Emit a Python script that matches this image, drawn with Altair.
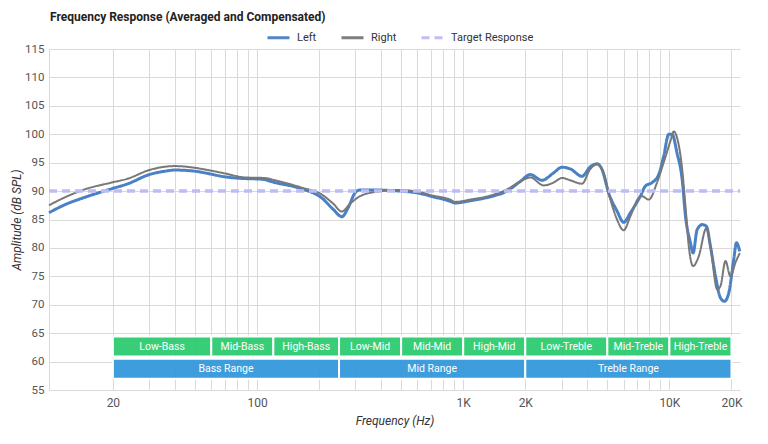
import altair as alt
import pandas as pd

# Left channel response (Hz, dB SPL)
left_freq = [9.8, 11.7, 14.6, 19.7, 23.7, 30, 35.8, 40, 50, 55.9, 70, 87.5, 105, 122,
             165, 206, 234, 258, 277, 299, 316, 354, 494, 596, 715, 865, 914, 1081,
             1352, 1630, 1892, 2115, 2410, 2744, 3014, 3306, 3768, 4136, 4458, 4712,
             5072, 5572, 6000, 6472, 7228, 7656, 8243, 8872, 9376, 9930, 10304, 10890,
             11536, 11968, 12648, 13032, 13626, 14416, 15126, 15814, 16732, 17692,
             18506, 19410, 20520, 21140, 21940]
left_db = [86.2, 87.6, 88.9, 90.4, 91.3, 92.9, 93.5, 93.7, 93.5, 93.2, 92.5, 92.2, 92.1, 91.5,
           90.4, 88.8, 86.8, 85.5, 87.1, 89.7, 90.2, 90.2, 90.0, 89.7, 89.0, 88.2, 87.9, 88.3,
           89.0, 90.0, 91.7, 92.9, 91.9, 93.2, 94.2, 93.9, 92.6, 94.3, 94.8, 93.8,
           89.7, 86.5, 84.5, 86.2, 89.1, 90.9, 91.5, 92.9, 96.1, 100.0, 100.0, 96.7,
           92.0, 85.6, 80.9, 79.1, 83.2, 84.1, 83.8, 80.3, 75.0, 71.2,
           70.6, 72.1, 78.0, 80.9, 79.4]

# Right channel response (Hz, dB SPL)
right_freq = [9.8, 11.7, 14.6, 19.7, 23.7, 30, 40, 50, 55.9, 70, 87.5, 109, 122, 165,
              206, 234, 258, 283, 316, 354, 494, 596, 715, 865, 914, 1081, 1352, 1630,
              1892, 2115, 2454, 2744, 3014, 3306, 3768, 4136, 4458, 4798, 5176, 5572,
              6000, 6472, 7096, 7366, 7944, 8710, 9376, 10116, 10496, 10890, 11536,
              11968, 12416, 13032, 13868, 15126, 15814, 17060, 17692, 18708, 19770,
              20900, 21950]
right_db = [87.5, 88.9, 90.3, 91.5, 92.2, 93.7, 94.4, 94.1, 93.8, 93.1, 92.4, 92.3, 91.9, 90.6,
            89.4, 87.8, 86.4, 87.8, 89.1, 89.7, 90.2, 89.9, 89.2, 88.5, 88.1, 88.5, 89.2, 90.3,
            91.7, 92.4, 91.0, 91.5, 92.3, 91.9, 91.3, 93.9, 94.7, 93.2, 88.5, 85.0,
            83.1, 85.6, 88.8, 89.1, 88.5, 91.5, 95.0, 98.8, 100.5, 99.4, 93.8,
            87.3, 80.3, 76.8, 78.5, 83.5, 80.3, 72.7, 73.3, 77.7, 75.0,
            77.4, 79.1]

# Flat target response
target_freq = [9.8, 22000]
target_db = [90, 90]

# Frequency bands (upper row) and ranges (lower row)
band_names = ["Low-Bass", "Mid-Bass", "High-Bass", "Low-Mid", "Mid-Mid", "High-Mid",
              "Low-Treble", "Mid-Treble", "High-Treble"]
band_lo = [20, 60, 120, 250, 500, 1000, 2000, 5000, 10000]
band_hi = [60, 120, 250, 500, 1000, 2000, 5000, 10000, 20000]
range_names = ["Bass Range", "Mid Range", "Treble Range"]
range_lo = [20, 250, 2000]
range_hi = [250, 2000, 20000]
band_row = [60.9, 64.4]
range_row = [57.0, 60.5]

grid_values = ([v for v in range(20, 100, 10)] + [v for v in range(100, 1000, 100)]
               + [v for v in range(1000, 10000, 1000)] + [10000, 20000])
x_labels = {20: "20", 100: "100", 1000: "1K", 2000: "2K", 10000: "10K", 20000: "20K"}
y_values = list(range(55, 120, 5))

FONT = "Roboto"
series_domain = ["Left", "Right", "Target Response"]
series_width = {"Left": 3, "Right": 2, "Target Response": 3.5}

curves = pd.concat([
    pd.DataFrame({"freq": left_freq, "db": left_db, "series": "Left"}),
    pd.DataFrame({"freq": right_freq, "db": right_db, "series": "Right"}),
    pd.DataFrame({"freq": target_freq, "db": target_db, "series": "Target Response"}),
], ignore_index=True)
curves["width"] = curves["series"].map(series_width)

bands = pd.DataFrame({
    "name": band_names + range_names,
    "lo": band_lo + range_lo,
    "hi": band_hi + range_hi,
    "bottom": [band_row[0]] * len(band_names) + [range_row[0]] * len(range_names),
    "top": [band_row[1]] * len(band_names) + [range_row[1]] * len(range_names),
    "fill": ["#2ecc71"] * len(band_names) + ["#3498db"] * len(range_names),
})
bands["mid"] = (bands["lo"] * bands["hi"]) ** 0.5
bands["center"] = (bands["bottom"] + bands["top"]) / 2

label_expr = " : ".join(
    f"datum.value == {k} ? '{v}'" for k, v in x_labels.items()
) + " : ''"

x_scale = alt.Scale(type="log", domain=[9.8, 22000], nice=False)
y_scale = alt.Scale(domain=[55, 115], nice=False, zero=False)

x_axis = alt.Axis(values=grid_values, labelExpr=label_expr, labelOverlap=False,
                  labelFlush=False, ticks=False, domain=False, grid=True,
                  title="Frequency (Hz)", titleFontStyle="italic",
                  titleFontWeight="normal", titleFontSize=12, titlePadding=7,
                  labelPadding=7, labelFontSize=12)
y_axis = alt.Axis(values=y_values, ticks=False, domain=True, grid=True,
                  labelOverlap=False, title="Amplitude (dB SPL)",
                  titleFontStyle="italic", titleFontWeight="normal", titleFontSize=12,
                  titlePadding=1, labelPadding=5, labelFontSize=11.5)

rects = alt.Chart(bands).mark_rect(stroke="white", strokeWidth=2, opacity=0.95).encode(
    x=alt.X("lo:Q", scale=x_scale, axis=x_axis),
    x2="hi:Q",
    y=alt.Y("bottom:Q", scale=y_scale, axis=y_axis),
    y2="top:Q",
    color=alt.Color("fill:N", scale=None),
)

texts = alt.Chart(bands).mark_text(color="white", fontSize=10.5, font=FONT).encode(
    x=alt.X("mid:Q", scale=x_scale, axis=x_axis),
    y=alt.Y("center:Q", scale=y_scale, axis=y_axis),
    text="name:N",
)

legend = alt.Legend(
    title=None, orient="none", legendX=217, legendY=-24, direction="horizontal",
    symbolType="stroke", symbolSize=484, symbolStrokeWidth=3, labelFontSize=11,
    labelFont=FONT, labelColor="#333", columnPadding=18, labelOffset=6,
)

lines = alt.Chart(curves).mark_line(interpolate="monotone").encode(
    x=alt.X("freq:Q", scale=x_scale, axis=x_axis),
    y=alt.Y("db:Q", scale=y_scale, axis=y_axis),
    color=alt.Color("series:N", legend=legend,
                    scale=alt.Scale(domain=series_domain,
                                    range=["#4a80c4", "#787878", "#bdbdf6"])),
    strokeDash=alt.StrokeDash("series:N", legend=legend,
                              scale=alt.Scale(domain=series_domain,
                                              range=[[1, 0], [1, 0], [8, 5]])),
    strokeWidth=alt.StrokeWidth("width:Q", scale=None),
    detail="series:N",
)

chart = alt.layer(rects, texts, lines).properties(
    width=691,
    height=341,
    autosize=alt.AutoSizeParams(type="none"),
    padding={"left": 49, "top": 49, "right": 28, "bottom": 54},
    title=alt.TitleParams("Frequency Response (Averaged and Compensated)",
                          anchor="start", frame="group", fontSize=12,
                          fontWeight="bold", font=FONT, color="#222",
                          offset=1, dx=1),
).configure_view(stroke=None).configure_axis(
    gridColor="#dadada", domainColor="#dadada", labelColor="#555",
    titleColor="#333", labelFont=FONT, titleFont=FONT,
).configure_axisY(labelOverlap=False)

chart.save("out.html", embed_options={"renderer": "svg", "actions": False})
